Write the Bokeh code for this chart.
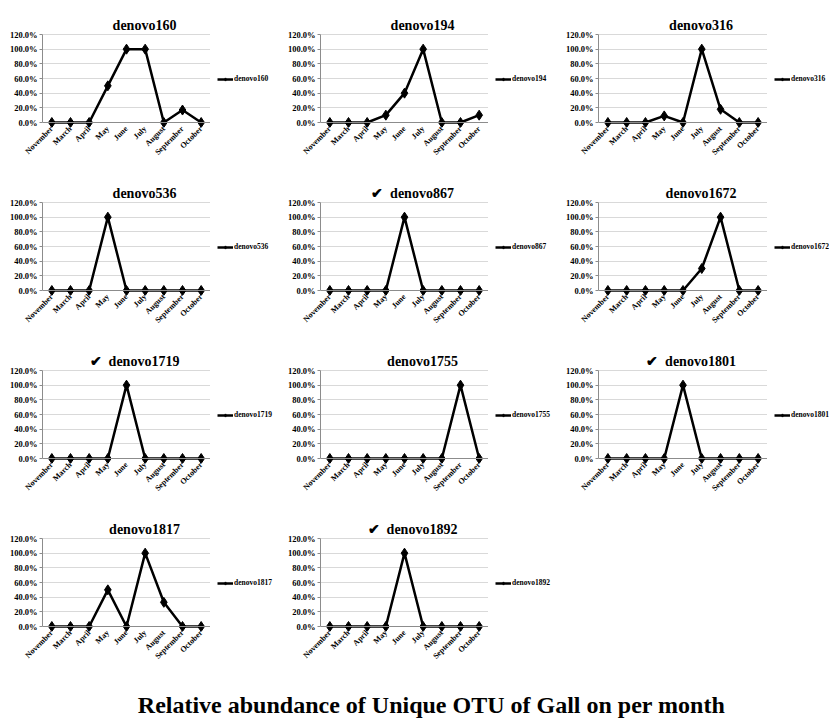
import math
from bokeh.plotting import figure
from bokeh.layouts import column, row
from bokeh.models import (FactorRange, Range1d, FixedTicker, NumeralTickFormatter,
                          Legend, LegendItem, Label, Span, Title, Spacer, ColumnDataSource)
from bokeh.embed import file_html
from bokeh.resources import INLINE

# ---------------- data ----------------
months = ["November", "March", "April", "May", "June", "July", "August", "September", "October"]

otu_names = ["denovo160", "denovo194", "denovo316",
             "denovo536", "denovo867", "denovo1672",
             "denovo1719", "denovo1755", "denovo1801",
             "denovo1817", "denovo1892"]
otu_checked = [False, False, False,
               False, True, False,
               True, False, True,
               False, True]

denovo160 = [0, 0, 0, 0.50, 1.00, 1.00, 0, 0.17, 0]
denovo194 = [0, 0, 0, 0.10, 0.40, 1.00, 0, 0, 0.10]
denovo316 = [0, 0, 0, 0.09, 0, 1.00, 0.18, 0, 0]
denovo536 = [0, 0, 0, 1.00, 0, 0, 0, 0, 0]
denovo867 = [0, 0, 0, 0, 1.00, 0, 0, 0, 0]
denovo1672 = [0, 0, 0, 0, 0, 0.30, 1.00, 0, 0]
denovo1719 = [0, 0, 0, 0, 1.00, 0, 0, 0, 0]
denovo1755 = [0, 0, 0, 0, 0, 0, 0, 1.00, 0]
denovo1801 = [0, 0, 0, 0, 1.00, 0, 0, 0, 0]
denovo1817 = [0, 0, 0, 0.50, 0, 1.00, 0.33, 0, 0]
denovo1892 = [0, 0, 0, 0, 1.00, 0, 0, 0, 0]

otu_values = [denovo160, denovo194, denovo316,
              denovo536, denovo867, denovo1672,
              denovo1719, denovo1755, denovo1801,
              denovo1817, denovo1892]

y_ticks = [0, 0.2, 0.4, 0.6, 0.8, 1.0, 1.2]
y_max = 1.2
main_title = "Relative abundance of Unique OTU of Gall on per month"

# ---------------- layout / styling constants ----------------
SERIF = "Liberation Serif"
col_left = [42, 40, 40]         # left border (y tick labels)
col_frame = [168, 168, 169]     # frame widths per column
col_legend = [70, 70, 62]       # legend strip widths per column
ROW_H = 168
PLOT_TOP_PX = 34                # px from row top to the 120% line
PLOT_H_PX = 88                  # px between 0% and 120%
PAD_PX = 5                      # px below 0% inside the frame
BOTTOM = ROW_H - PLOT_TOP_PX - PLOT_H_PX - PAD_PX
FRAME_TOTAL = ROW_H - BOTTOM
UNIT = y_max / PLOT_H_PX        # data units per px
AXIS_GRAY = "#8c8c8c"
LEGEND_CENTER_PX = 79           # legend centre, px from row top


def make_panel(name, vals, checked, col):
    fw = col_frame[col]
    left = col_left[col]
    p = figure(width=left + fw, height=ROW_H,
               x_range=FactorRange(*months, range_padding=0),
               y_range=Range1d(-PAD_PX * UNIT, y_max + PLOT_TOP_PX * UNIT),
               output_backend="svg", toolbar_location=None,
               min_border_left=left, min_border_right=0,
               min_border_top=0, min_border_bottom=BOTTOM)
    p.outline_line_color = None
    p.background_fill_color = "white"
    p.border_fill_color = "white"

    # axis line at 0%
    p.add_layout(Span(location=0, dimension="width", line_color=AXIS_GRAY, line_width=1))

    src = ColumnDataSource(dict(month=months, v=vals))
    p.line("month", "v", source=src, line_color="black", line_width=2.5)
    p.scatter("month", "v", source=src, marker="diamond", size=10,
              fill_color="black", line_color="black")

    # y axis
    p.yaxis.ticker = FixedTicker(ticks=y_ticks)
    p.yaxis.bounds = (0, y_max)
    p.yaxis.formatter = NumeralTickFormatter(format="0.0%")
    p.yaxis.major_label_text_font = SERIF
    p.yaxis.major_label_text_font_style = "bold"
    p.yaxis.major_label_text_font_size = "8.5px"
    p.yaxis.major_label_text_color = "black"
    p.yaxis.major_label_standoff = 2
    p.yaxis.major_tick_out = 3
    p.yaxis.major_tick_in = 0
    p.yaxis.minor_tick_line_color = None
    p.yaxis.axis_line_color = AXIS_GRAY
    p.yaxis.major_tick_line_color = AXIS_GRAY

    # x axis (line drawn by the Span at 0)
    p.xaxis.major_label_orientation = math.pi / 4
    p.xaxis.major_label_text_font = SERIF
    p.xaxis.major_label_text_font_style = "bold"
    p.xaxis.major_label_text_font_size = "8px"
    p.xaxis.major_label_text_color = "black"
    p.xaxis.major_label_standoff = 0
    p.xaxis.major_tick_out = 0
    p.xaxis.major_tick_in = 0
    p.xaxis.axis_line_color = None

    p.xgrid.grid_line_color = None
    p.ygrid.grid_line_color = "#d9d9d9"
    p.ygrid.grid_line_width = 1

    # chart title inside the (taller) frame
    text = ("\u2714\u00a0 " + name) if checked else name
    cx = fw / 2 + (8 if checked else 18)
    p.add_layout(Label(x=cx, y=FRAME_TOTAL - 25, x_units="screen", y_units="screen",
                       text=text, text_align="center", text_baseline="alphabetic",
                       text_font=SERIF, text_font_style="bold",
                       text_font_size="14px", text_color="black"))

    # legend strip: a small figure holding the same series (kept out of view)
    lf = figure(width=col_legend[col], height=ROW_H,
                x_range=FactorRange(*months, range_padding=0),
                y_range=Range1d(10, 11),
                output_backend="svg", toolbar_location=None,
                x_axis_type=None, y_axis_type=None, min_border=0)
    lf.outline_line_color = None
    lf.grid.visible = False
    lsrc = ColumnDataSource(dict(month=months, v=vals))
    lr = lf.line("month", "v", source=lsrc, line_color="black", line_width=2.5)
    sr = lf.scatter("month", "v", source=lsrc, marker="diamond", size=7,
                    fill_color="black", line_color="black")
    leg_h = 8
    leg = Legend(items=[LegendItem(label=name, renderers=[lr, sr])],
                 location=(7, FRAME_TOTAL - LEGEND_CENTER_PX - leg_h / 2),
                 glyph_width=16, glyph_height=leg_h, label_standoff=1,
                 label_text_font=SERIF, label_text_font_style="bold",
                 label_text_font_size="7.5px", label_text_color="black",
                 label_height=leg_h, padding=0, margin=0, spacing=0,
                 border_line_color=None, background_fill_alpha=0)
    lf.add_layout(leg, "center")
    return [p, lf]


panels = [make_panel(n, v, c, i % 3) for i, (n, v, c) in
          enumerate(zip(otu_names, otu_values, otu_checked))]

rows = []
for i in range(0, len(panels), 3):
    figs = []
    for pair in panels[i:i + 3]:
        figs.extend(pair)
    rows.append(row(*figs))

# overall caption, centred at x ~431 (spacer + figure)
tfig = figure(width=796, height=48, x_range=Range1d(0, 1), y_range=Range1d(0, 1),
              output_backend="svg", toolbar_location=None,
              x_axis_type=None, y_axis_type=None, min_border=0)
tfig.outline_line_color = None
tfig.grid.visible = False
tfig.add_layout(Title(text=main_title, align="center", vertical_align="bottom",
                      standoff=6, text_font=SERIF, text_font_style="bold",
                      text_font_size="24px", text_color="black"), "below")

layout = column(*rows, row(Spacer(width=33, height=48), tfig))

open("out.html", "w").write(file_html(layout, INLINE))
